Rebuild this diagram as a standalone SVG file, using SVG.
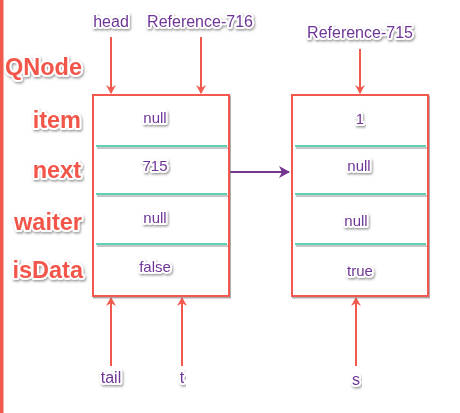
<svg xmlns="http://www.w3.org/2000/svg" width="460" height="413" viewBox="0 0 460 413">
<defs>
<filter id="sh" x="-20%" y="-30%" width="140%" height="170%">
<feDropShadow dx="1" dy="1.5" stdDeviation="0.8" flood-color="#555" flood-opacity="0.6"/>
</filter>
<filter id="bs" x="-5%" y="-5%" width="110%" height="110%">
<feDropShadow dx="1" dy="1.5" stdDeviation="0.6" flood-color="#777" flood-opacity="0.6"/>
</filter>
<marker id="ar" markerWidth="10" markerHeight="10" refX="8" refY="5" orient="auto" markerUnits="userSpaceOnUse">
<path d="M0,0 L9,5 L0,10 L3,5 Z" fill="#f2594d"/>
</marker>
<marker id="ap" markerWidth="12" markerHeight="12" refX="10" refY="6" orient="auto" markerUnits="userSpaceOnUse">
<path d="M0,0 L11,6 L0,12 L3,6 Z" fill="#74368f"/>
</marker>
</defs>
<style>
.fl{font-family:"Liberation Sans",Arial,sans-serif;font-weight:bold;font-size:23.5px;fill:#f2574b;stroke:#fff;stroke-width:4;paint-order:stroke;stroke-linejoin:round;filter:url(#sh);text-anchor:end}
.pt{font-family:"Liberation Sans",Arial,sans-serif;font-size:16px;fill:#6e3596;stroke:#fff;stroke-width:4;paint-order:stroke;stroke-linejoin:round;filter:url(#sh);text-anchor:middle}
.vt{font-family:"Liberation Sans",Arial,sans-serif;font-size:15px;fill:#6e3596;stroke:#fff;stroke-width:4;paint-order:stroke;stroke-linejoin:round;filter:url(#sh);text-anchor:middle}
.box{fill:#fff;stroke:#f2594d;stroke-width:2;filter:url(#bs)}
.sep{stroke:#2cbf9f;stroke-width:1.6}
.sps{stroke:#b5b5b5;stroke-width:1.6}
.ra{stroke:#f2594d;stroke-width:2;fill:none;marker-end:url(#ar)}
</style>
<rect x="0" y="0" width="460" height="413" fill="#fff"/>
<rect x="0" y="0" width="3.5" height="413" fill="#f2594d"/>
<g id="connectors">
<line class="ra" x1="111" y1="37" x2="111" y2="93"/>
<line class="ra" x1="201" y1="37" x2="201" y2="93"/>
<line class="ra" x1="360" y1="49" x2="360" y2="93"/>
<line class="ra" x1="111" y1="366" x2="111" y2="298"/>
<line class="ra" x1="182" y1="366" x2="182" y2="298"/>
<line class="ra" x1="356" y1="366" x2="356" y2="298"/>
<line x1="230" y1="172" x2="289" y2="172" stroke="#74368f" stroke-width="2" marker-end="url(#ap)"/>
</g>
<g id="fields">
<text class="fl" x="82" y="75">QNode</text>
<text class="fl" x="81" y="128">item</text>
<text class="fl" x="81" y="178">next</text>
<text class="fl" x="82" y="230">waiter</text>
<text class="fl" x="83" y="278">isData</text>
</g>
<g id="node1">
<rect class="box" x="93" y="95" width="136" height="201"/>
<line class="sps" x1="97" y1="148" x2="228" y2="148"/>
<line class="sps" x1="97" y1="196" x2="228" y2="196"/>
<line class="sps" x1="97" y1="246" x2="228" y2="246"/>
<line class="sep" x1="96" y1="146" x2="227" y2="146"/>
<line class="sep" x1="96" y1="194" x2="227" y2="194"/>
<line class="sep" x1="96" y1="244" x2="227" y2="244"/>
<text class="vt" x="155" y="123">null</text>
<text class="vt" x="155" y="171">715</text>
<text class="vt" x="155" y="223">null</text>
<text class="vt" x="155" y="272">false</text>
</g>
<g id="node2">
<rect class="box" x="292" y="95" width="136" height="201"/>
<line class="sps" x1="296" y1="148" x2="427" y2="148"/>
<line class="sps" x1="296" y1="196" x2="427" y2="196"/>
<line class="sps" x1="296" y1="246" x2="427" y2="246"/>
<line class="sep" x1="295" y1="146" x2="426" y2="146"/>
<line class="sep" x1="295" y1="194" x2="426" y2="194"/>
<line class="sep" x1="295" y1="244" x2="426" y2="244"/>
<text class="vt" x="360" y="124">1</text>
<text class="vt" x="359" y="171">null</text>
<text class="vt" x="356" y="226">null</text>
<text class="vt" x="360" y="276">true</text>
</g>
<g id="labels">
<text class="pt" x="111" y="27">head</text>
<text class="pt" x="200" y="27">Reference-716</text>
<text class="pt" x="360" y="38">Reference-715</text>
<text class="pt" x="111" y="383">tail</text>
<text class="pt" x="182" y="383">t</text>
<text class="pt" x="356" y="385">s</text>
</g>
</svg>
